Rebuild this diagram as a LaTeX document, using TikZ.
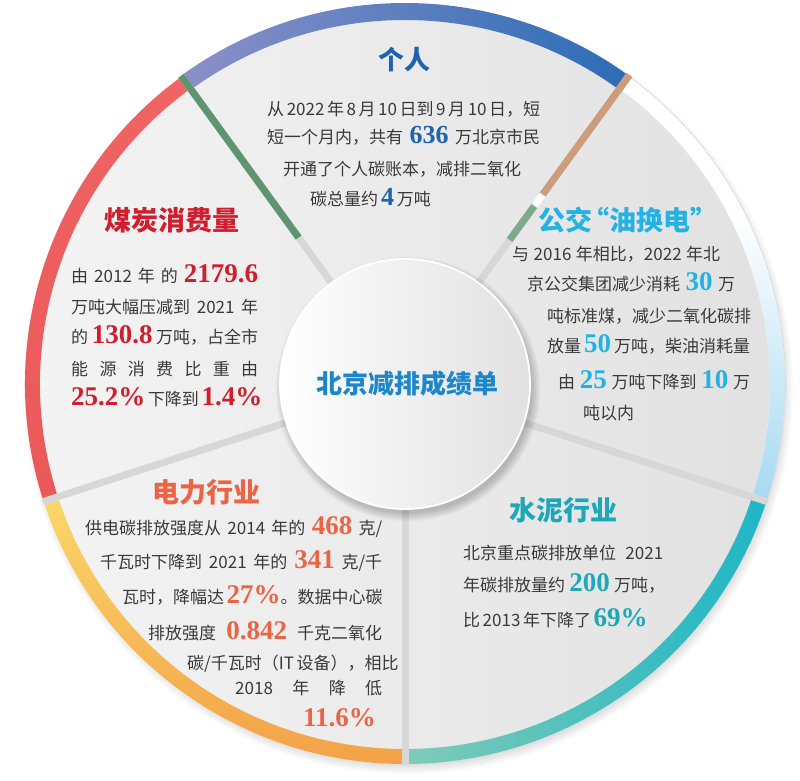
\documentclass[tikz,border=0pt]{standalone}
\usepackage{fontspec}
\setmainfont{Noto Sans CJK SC}
\newfontfamily\numf{Liberation Serif}
\usetikzlibrary{calc}
\definecolor{txt}{HTML}{3A3A3A}
\definecolor{sepg}{HTML}{D7D7D7}
\definecolor{cPer}{HTML}{1D63AD}
\definecolor{cCoal}{HTML}{CF1F2E}
\definecolor{cBus}{HTML}{22B2E4}
\definecolor{cCem}{HTML}{1CA8B8}
\definecolor{cPow}{HTML}{EA6446}
\definecolor{cMid}{HTML}{1C86CC}
\definecolor{wL}{HTML}{F4F4F4}
\definecolor{wR}{HTML}{E1E1E1}
\definecolor{rPerL}{HTML}{8C90C8}
\definecolor{rPerR}{HTML}{2C6CB6}
\definecolor{rCoalT}{HTML}{F06464}
\definecolor{rCoalB}{HTML}{EA5858}
\definecolor{rPowT}{HTML}{FBD86A}
\definecolor{rPowB}{HTML}{F3A046}
\definecolor{rCemL}{HTML}{80CBB6}
\definecolor{rCemR}{HTML}{18B4C8}
\definecolor{rBusB}{HTML}{A4D8F2}
\definecolor{strGreen}{HTML}{5E9470}
\definecolor{strTan}{HTML}{CD9C7A}
\newcommand\Nm[3][27]{{\color{#2}\numf\bfseries\fontsize{#1pt}{#1pt}\selectfont #3}}
\newcommand\J[2]{\makebox[#1pt][s]{\XeTeXinterchartokenstate=1 #2}}
\XeTeXinterchartoks 1 1 = {\hskip 0pt plus 1pt minus 0.3pt}
\XeTeXinterchartoks 0 1 = {\hskip 0pt plus 1pt minus 0.3pt}
\XeTeXinterchartoks 1 0 = {\hskip 0pt plus 1pt minus 0.3pt}
\XeTeXinterchartoks 1 2 = {\hskip 0pt plus 1pt minus 0.3pt}
\XeTeXinterchartoks 1 3 = {\hskip 0pt plus 1pt minus 0.3pt}
\XeTeXinterchartoks 3 1 = {\hskip 0pt plus 1pt minus 0.3pt}
\XeTeXinterchartoks 2 1 = {\hskip 0pt plus 1pt minus 0.3pt}
\XeTeXinterchartoks 3 0 = {\hskip 0pt plus 1pt minus 0.3pt}
\XeTeXinterchartoks 0 3 = {\hskip 0pt plus 1pt minus 0.3pt}
\tikzset{
  bl/.style={anchor=base west, inner sep=0pt, text=txt, font=\fontsize{17pt}{20pt}\selectfont},
  ttl/.style={inner sep=0pt, font=\fontsize{27pt}{30pt}\selectfont\bfseries},
  sepline/.style={line width=7pt, draw=sepg},
}
\begin{document}
\begin{tikzpicture}[x=1pt,y=1pt]
\useasboundingbox (0,0) rectangle (800,780);
\fill[white] (0,0) rectangle (800,780);
\begin{scope}[shift={(405,396)}]
  % soft shadow
  \foreach \i in {1,...,8} {\fill[black,opacity=0.018] (3,-5) circle[radius=372+\i*1.6];}
  % disc fill
  \begin{scope}
    \clip (0,0) circle[radius=380];
    \shade[left color=wL, right color=wR] (-385,-385) rectangle (385,385);
  \end{scope}
  % rims
  \begin{scope}
    \clip (54:381) arc[start angle=54,end angle=126,radius=381] -- (126:364) arc[start angle=126,end angle=54,radius=364] -- cycle;
    \shade[left color=rPerL, right color=rPerR] (-225,280) rectangle (225,385);
  \end{scope}
  \begin{scope}
    \clip (126:380) arc[start angle=126,end angle=198,radius=380] -- (198:365) arc[start angle=198,end angle=126,radius=365] -- cycle;
    \shade[top color=rCoalT, bottom color=rCoalB] (-385,-125) rectangle (-210,310);
  \end{scope}
  \begin{scope}
    \clip (198:380) arc[start angle=198,end angle=270,radius=380] -- (270:365) arc[start angle=270,end angle=198,radius=365] -- cycle;
    \shade[top color=rPowT, bottom color=rPowB] (-385,-385) rectangle (0,-110);
  \end{scope}
  \begin{scope}
    \clip (270:380) arc[start angle=270,end angle=342,radius=380] -- (342:365) arc[start angle=342,end angle=270,radius=365] -- cycle;
    \shade[left color=rCemL, right color=rCemR] (0,-385) rectangle (385,-100);
  \end{scope}
  \begin{scope}
    \clip (342:380) arc[start angle=342,end angle=414,radius=380] -- (414:365) arc[start angle=414,end angle=342,radius=365] -- cycle;
    \fill[white] (200,-130) rectangle (390,320);
    \shade[top color=white, bottom color=rBusB] (210,-125) rectangle (385,170);
  \end{scope}
  \draw[black!15, line width=0.6pt] (342:380.5) arc[start angle=342,end angle=414,radius=380.5];
  % separators
  \foreach \a in {54,126,198,270,342} {\draw[sepline] (\a:118) -- (\a:381);}
  \draw[line width=7pt, strGreen] (126:181) -- (126:381);
  \draw[line width=7pt, strTan] (54:234) -- (54:382);
  \draw[line width=7pt, white] (54:220) -- (54:234);
  \draw[line width=7pt, strGreen!80] (54:178) -- (54:220);
  % centre circle
  \foreach \i in {1,...,7} {\fill[black,opacity=0.03] (3,-5) circle[radius=123+\i*1.3];}
  \shade[left color=white, right color=wR] (0,0) circle[radius=125];
  \draw[white, line width=1.8pt] (0,0) circle[radius=125];
\end{scope}
% centre title
\node[ttl, text=cMid, font=\fontsize{26pt}{30pt}\selectfont\bfseries] (mid) at (407,396) {北京减排成绩单};
% person
\node[ttl, text=cPer, font=\fontsize{26pt}{30pt}\selectfont\bfseries] (tPer) at (404,720) {个人};
\node[bl] (p1) at (267,664) {\J{273}{从 2022 年 8 月 10 日到 9 月 10 日，短}};
\node[bl] (p2) at (267,636) {\J{273}{短一个月内，共有 \Nm[26]{cPer}{636} 万北京市民}};
\node[bl] (p3) at (283,604) {\J{239}{开通了个人碳账本，减排二氧化}};
\node[bl] (p4) at (310,574) {碳总量约\,\Nm[26]{cPer}{4}\,万吨};
% coal
\node[ttl, text=cCoal] (tCoal) at (172,560) {煤炭消费量};
\node[bl] (c1) at (71,497) {\J{187}{由 2012 年 的 \Nm{cCoal}{2179.6}}};
\node[bl] (c2) at (71,466) {\J{187}{万吨大幅压减到 2021 年}};
\node[bl] (c3) at (71,436) {\J{187}{的 \Nm{cCoal}{130.8} 万吨，占全市}};
\node[bl] (c4) at (71,404) {\J{187}{能 源 消 费 比 重 由}};
\node[bl] (c5) at (71,374) {\J{182}{\Nm{cCoal}{25.2\%} 下降到 \Nm{cCoal}{1.4\%}}};
% bus
\node[ttl, text=cBus] (tBus) at (628,560) {公交\hspace{-10pt}“油换电”};
\node[bl] (b1) at (512,519) {\J{208}{与 2016 年相比，2022 年北}};
\node[bl] (b2) at (527,489) {\J{208}{京公交集团减少消耗 \Nm{cBus}{30} 万}};
\node[bl] (b3) at (547,457) {\J{203}{吨标准煤，减少二氧化碳排}};
\node[bl] (b4) at (547,427) {\J{203}{放量 \Nm{cBus}{50} 万吨，柴油消耗量}};
\node[bl] (b5) at (558,391) {\J{192}{由 \Nm{cBus}{25} 万吨下降到 \Nm{cBus}{10} 万}};
\node[bl] (b6) at (583,361) {吨以内};
% cement
\node[ttl, text=cCem] (tCem) at (563,270) {水泥行业};
\node[bl] (m1) at (463,221) {\J{200}{北京重点碳排放单位 2021}};
\node[bl] (m2) at (463,189) {\J{202}{年碳排放量约 \Nm{cCem}{200} 万吨，}};
\node[bl] (m3) at (463,154) {\J{184}{比 2013 年下降了 \Nm{cCem}{69\%}}};
% power
\node[ttl, text=cPow] (tPow) at (206,288) {电力行业};
\node[bl] (e1) at (85,246) {\J{297}{供电碳排放强度从 2014 年的 \Nm{cPow}{468} 克/}};
\node[bl] (e2) at (100,212) {\J{282}{千瓦时下降到 2021 年的 \Nm{cPow}{341} 克/千}};
\node[bl] (e3) at (122,177) {\J{260}{瓦时，降幅达 \Nm{cPow}{27\%}。数据中心碳}};
\node[bl] (e4) at (148,141) {\J{234}{排放强度 \Nm{cPow}{0.842} 千克二氧化}};
\node[bl] (e5) at (187,111) {\J{195}{碳/千瓦时（IT 设备），相比}};
\node[bl] (e6) at (235,86) {\J{147}{2018 年 降 低}};
\node[bl] (e7) at (303,54) {\Nm{cPow}{11.6\%}};
\end{tikzpicture}
\end{document}
